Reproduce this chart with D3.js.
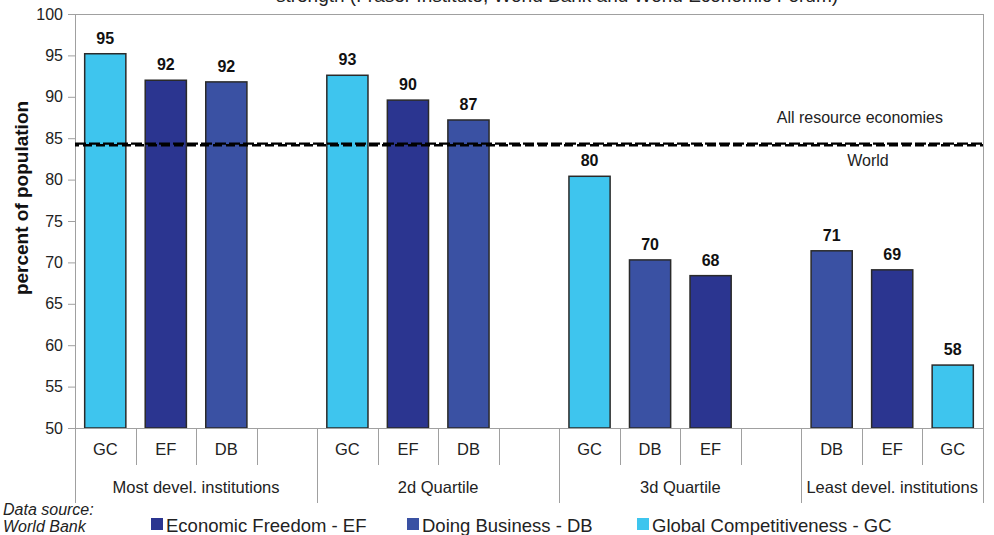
<!DOCTYPE html>
<html>
<head>
<meta charset="utf-8">
<script src="https://cdn.jsdelivr.net/npm/d3@7"></script>
<style>
  html, body { margin: 0; padding: 0; background: #fff; }
  svg { display: block; font-family: "Liberation Sans", Arial, sans-serif; }
</style>
</head>
<body>
<svg id="chart" width="994" height="535"></svg>
<script>
// ---------- data ----------
const groups = ["Most devel. institutions", "2d Quartile", "3d Quartile", "Least devel. institutions"];
const groupSlots = [
  ["GC", "EF", "DB", ""],
  ["GC", "EF", "DB", ""],
  ["GC", "DB", "EF", ""],
  ["DB", "EF", "GC"]
];
const groupValues = [
  [95.2, 92.0, 91.8],
  [92.6, 89.6, 87.2],
  [80.4, 70.3, 68.4],
  [71.4, 69.1, 57.6]
];
const seriesCodes = ["EF", "DB", "GC"];
const seriesNames = ["Economic Freedom - EF", "Doing Business - DB", "Global Competitiveness - GC"];
const seriesColors = ["#2b3590", "#3a51a3", "#3ec5ee"];
const refNames = ["All resource economies", "World"];
const refValues = [84.35, 84.15];
const yTicks = [50, 55, 60, 65, 70, 75, 80, 85, 90, 95, 100];
const titleText = "strength (Fraser Institute, World Bank and World Economic Forum)";
const yTitle = "percent of population";
const sourceLines = ["Data source:", "World Bank"];

// ---------- layout ----------
const L = 75, R = 983, T = 14, B = 428;
const svg = d3.select("#chart");
const color = d3.scaleOrdinal().domain(seriesCodes).range(seriesColors);

// flatten slots
const slots = [];
groupSlots.forEach((arr, gi) => arr.forEach((code, si) => {
  slots.push({ id: gi + "-" + si, group: gi, idx: si, code: code,
               value: code ? groupValues[gi][si] : null });
}));

const x = d3.scaleBand().domain(slots.map(d => d.id)).range([L, R])
  .paddingInner(0.32).paddingOuter(0.16);
const step = x.step();
const y = d3.scaleLinear().domain([50, 100]).range([B, T]);

// title (cut off at top, as in the reference)
svg.append("text").attr("x", 557).attr("y", 2).attr("text-anchor", "middle")
  .attr("font-size", 19).attr("fill", "#222").text(titleText);

// frame
const gridCol = "#a0a0a0";
svg.append("line").attr("x1", L).attr("x2", R).attr("y1", T + 0.5).attr("y2", T + 0.5)
  .attr("stroke", gridCol);
svg.append("line").attr("x1", R + 0.5).attr("x2", R + 0.5).attr("y1", T).attr("y2", 503)
  .attr("stroke", gridCol);

// y axis
const yAxis = svg.append("g").attr("transform", `translate(${L},0)`)
  .call(d3.axisLeft(y).tickValues(yTicks).tickSize(7).tickPadding(5).tickSizeOuter(0));
yAxis.select(".domain").remove();
yAxis.selectAll(".tick line").attr("stroke", gridCol);
yAxis.selectAll(".tick text").attr("font-size", 16).attr("fill", "#222")
  .attr("font-family", "Liberation Sans, Arial, sans-serif");
svg.append("line").attr("x1", L + 0.5).attr("x2", L + 0.5).attr("y1", T).attr("y2", 503)
  .attr("stroke", gridCol);

// y title
svg.append("text").attr("transform", `translate(28,${(100 + 296) / 2}) rotate(-90)`)
  .attr("text-anchor", "middle").attr("font-size", 19).attr("font-weight", "bold")
  .attr("fill", "#111").text(yTitle);

// bars
const bars = slots.filter(d => d.code);
svg.append("g").selectAll("rect").data(bars).join("rect")
  .attr("x", d => x(d.id)).attr("width", x.bandwidth())
  .attr("y", d => y(d.value)).attr("height", d => y(50) - y(d.value))
  .attr("fill", d => color(d.code)).attr("stroke", "#2a2a2a").attr("stroke-width", 1.5);

svg.append("g").selectAll("text").data(bars).join("text")
  .attr("x", d => x(d.id) + x.bandwidth() / 2).attr("y", d => y(d.value) - 10)
  .attr("text-anchor", "middle").attr("font-size", 16).attr("font-weight", "bold")
  .attr("fill", "#111").text(d => d3.format(".0f")(d.value));

// reference lines
const dashes = [{ arr: "11,3", off: 0 }, { arr: "9,4", off: 5 }];
refValues.forEach((v, i) => {
  svg.append("line").attr("x1", L).attr("x2", R).attr("y1", y(v)).attr("y2", y(v))
    .attr("stroke", "#000").attr("stroke-width", 2.4)
    .attr("stroke-dasharray", dashes[i].arr).attr("stroke-dashoffset", dashes[i].off);
});
svg.append("text").attr("x", 943).attr("y", 123).attr("text-anchor", "end")
  .attr("font-size", 16).attr("fill", "#222").text(refNames[0]);
svg.append("text").attr("x", 868).attr("y", 166).attr("text-anchor", "middle")
  .attr("font-size", 16).attr("fill", "#222").text(refNames[1]);

// x axis baseline
svg.append("line").attr("x1", L - 7).attr("x2", R).attr("y1", B + 0.5).attr("y2", B + 0.5)
  .attr("stroke", gridCol);

// slot separators
const boundaries = [];
slots.forEach((d, i) => {
  if (i === 0) return;
  const xb = x(d.id) - step * 0.16;
  boundaries.push({ x: xb, major: d.idx === 0 });
});
svg.append("g").selectAll("line").data(boundaries).join("line")
  .attr("x1", d => Math.round(d.x) + 0.5).attr("x2", d => Math.round(d.x) + 0.5)
  .attr("y1", B).attr("y2", d => d.major ? 503 : 465)
  .attr("stroke", gridCol);

// slot labels
svg.append("g").selectAll("text").data(slots.filter(d => d.code)).join("text")
  .attr("x", d => x(d.id) + x.bandwidth() / 2).attr("y", 455)
  .attr("text-anchor", "middle").attr("font-size", 16.5).attr("fill", "#222")
  .text(d => d.code);

// group labels
groups.forEach((g, gi) => {
  const gs = slots.filter(d => d.group === gi);
  const x0 = x(gs[0].id) - step * 0.16;
  const x1 = x(gs[gs.length - 1].id) + x.bandwidth() + step * 0.16;
  svg.append("text").attr("x", (x0 + x1) / 2).attr("y", 493)
    .attr("text-anchor", "middle").attr("font-size", 16.5).attr("fill", "#222").text(g);
});

// data source
sourceLines.forEach((s, i) => {
  svg.append("text").attr("x", 3).attr("y", 515 + i * 17)
    .attr("font-size", 16).attr("font-style", "italic").attr("fill", "#222").text(s);
});

// legend
const legendX = [151, 407, 637];
seriesCodes.forEach((c, i) => {
  svg.append("rect").attr("x", legendX[i]).attr("y", 518).attr("width", 12).attr("height", 12)
    .attr("fill", color(c));
  svg.append("text").attr("x", legendX[i] + 15).attr("y", 532)
    .attr("font-size", 18.5).attr("fill", "#222").text(seriesNames[i]);
});
</script>
</body>
</html>
